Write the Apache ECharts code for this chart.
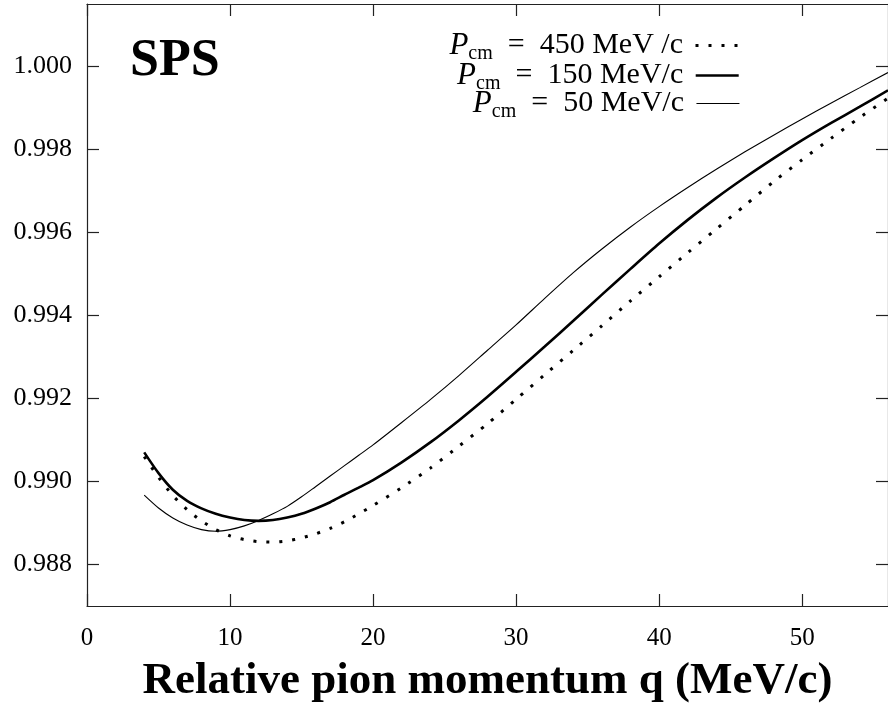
<!DOCTYPE html>
<html>
<head>
<meta charset="utf-8">
<script src="https://cdn.jsdelivr.net/npm/echarts@6/dist/echarts.min.js"></script>
<style>
  html, body { margin: 0; padding: 0; background: #fff; }
  #chart { width: 888px; height: 709px; }
</style>
</head>
<body>
<div id="chart"></div>
<script>
// relative pion momentum q (MeV/c)
var qValues = [4, 5, 6, 7, 8, 9, 10, 11, 12, 13, 14, 15, 16, 17, 18, 19, 20, 22, 24, 26, 28, 30,
               32, 34, 36, 38, 40, 42, 44, 46, 48, 50, 52, 54, 56];

// P_cm = 450 MeV/c (dotted)
var p450 = [0.99060, 0.99010, 0.98966, 0.98932, 0.98905, 0.98884, 0.98869, 0.98860, 0.98855, 0.98854,
            0.98857, 0.98864, 0.98874, 0.98887, 0.98903, 0.98922, 0.98942, 0.98985, 0.99032, 0.99085,
            0.99139, 0.99198, 0.99257, 0.99316, 0.99375, 0.99435, 0.99493, 0.99551, 0.99608, 0.99665,
            0.99722, 0.99775, 0.99826, 0.99876, 0.99923];

// P_cm = 150 MeV/c (thick)
var p150 = [0.99070, 0.99020, 0.98980, 0.98953, 0.98935, 0.98922, 0.98913, 0.98907, 0.98905, 0.98907,
            0.98913, 0.98922, 0.98935, 0.98950, 0.98968, 0.98985, 0.99003, 0.99046, 0.99094, 0.99147,
            0.99204, 0.99264, 0.99325, 0.99387, 0.99450, 0.99512, 0.99573, 0.99630, 0.99683, 0.99732,
            0.99778, 0.99822, 0.99863, 0.99902, 0.99942];

// P_cm = 50 MeV/c (thin)
var p50 = [0.98967, 0.98936, 0.98912, 0.98895, 0.98884, 0.98880, 0.98884, 0.98893, 0.98906, 0.98922,
           0.98940, 0.98963, 0.98988, 0.99013, 0.99038, 0.99063, 0.99088, 0.99142, 0.99197, 0.99255,
           0.99316, 0.99377, 0.99441, 0.99503, 0.99560, 0.99613, 0.99662, 0.99708, 0.99752, 0.99794,
           0.99834, 0.99873, 0.99911, 0.99948, 0.99985];

var xTicks = [0, 10, 20, 30, 40, 50];
var yTicks = [0.988, 0.990, 0.992, 0.994, 0.996, 0.998, 1.000];

var legendText = {
    'P450': '{p|P}{s|cm}{t|  =  450 MeV /c }',
    'P150': '{p|P}{s|cm}{t|  =  150 MeV/c }',
    'P50':  '{p|P}{s|cm}{t|  =  50 MeV/c }'
};

function pairs(ys) {
    var out = [];
    for (var i = 0; i < qValues.length; i++) {
        out.push([qValues[i], ys[i]]);
    }
    return out;
}

var serif = 'Liberation Serif';
var axisColor = '#222';

var richStyle = {
    p: { fontFamily: serif, fontStyle: 'italic', fontSize: 31, color: '#000' },
    s: { fontFamily: serif, fontSize: 20, color: '#000', padding: [16, 0, 0, 0] },
    t: { fontFamily: serif, fontSize: 30, color: '#000' }
};

function makeLegend(name, top, width) {
    return {
        data: [name],
        right: 148,
        top: top,
        padding: 0,
        align: 'right',
        itemWidth: 43,
        itemHeight: 14,
        selectedMode: false,
        itemStyle: { opacity: 0, borderWidth: 0 },
        lineStyle: { width: width, opacity: 1 },
        formatter: function (n) { return legendText[n]; },
        textStyle: { rich: richStyle }
    };
}

var chart = echarts.init(document.getElementById('chart'));
chart.setOption({
    backgroundColor: '#fff',
    animation: false,
    color: ['#000', '#000', '#000'],
    title: {
        text: 'SPS',
        left: 130,
        top: 36,
        padding: 0,
        textStyle: { fontFamily: serif, fontWeight: 'bold', fontSize: 52, color: '#000' }
    },
    legend: [
        makeLegend('P450', 30, 3),
        makeLegend('P150', 60, 2.6),
        makeLegend('P50', 88, 1.1)
    ],
    grid: {
        left: 87,
        top: 4,
        right: -5,
        bottom: 101
    },
    xAxis: [
        {
            type: 'value',
            min: 0,
            max: 56,
            name: 'Relative pion momentum q (MeV/c)',
            nameLocation: 'middle',
            nameGap: 53,
            nameTextStyle: { fontFamily: serif, fontWeight: 'bold', fontSize: 45, color: '#000' },
            axisLine: { onZero: false, lineStyle: { color: axisColor, width: 1.2 } },
            axisTick: { inside: true, length: 12, customValues: xTicks, lineStyle: { color: axisColor, width: 1.2 } },
            axisLabel: { customValues: xTicks, margin: 20, fontFamily: serif, fontSize: 25, color: '#000' },
            splitLine: { show: false }
        },
        {
            type: 'value',
            position: 'top',
            min: 0,
            max: 56,
            axisLine: { onZero: false, lineStyle: { color: axisColor, width: 1.2 } },
            axisTick: { inside: true, length: 12, customValues: xTicks, lineStyle: { color: axisColor, width: 1.2 } },
            axisLabel: { show: false },
            splitLine: { show: false }
        }
    ],
    yAxis: [
        {
            type: 'value',
            min: 0.987,
            max: 1.0015,
            axisLine: { onZero: false, lineStyle: { color: axisColor, width: 1.2 } },
            axisTick: { inside: true, length: 12, customValues: yTicks, lineStyle: { color: axisColor, width: 1.2 } },
            axisLabel: {
                customValues: yTicks,
                margin: 15,
                fontFamily: serif,
                fontSize: 26,
                color: '#000',
                formatter: function (v) { return v.toFixed(3); }
            },
            splitLine: { show: false }
        },
        {
            type: 'value',
            position: 'right',
            min: 0.987,
            max: 1.0015,
            axisLine: { onZero: false, lineStyle: { color: axisColor, width: 1.2 } },
            axisTick: { inside: true, length: 12, customValues: yTicks, lineStyle: { color: axisColor, width: 1.2 } },
            axisLabel: { show: false },
            splitLine: { show: false }
        }
    ],
    series: [
        {
            name: 'P450',
            type: 'line',
            data: pairs(p450),
            smooth: 0.25,
            symbol: 'none',
            itemStyle: { color: '#000' },
            lineStyle: { color: '#000', width: 3, type: [3, 10], cap: 'butt' }
        },
        {
            name: 'P150',
            type: 'line',
            data: pairs(p150),
            smooth: 0.25,
            symbol: 'none',
            itemStyle: { color: '#000' },
            lineStyle: { color: '#000', width: 2.6 }
        },
        {
            name: 'P50',
            type: 'line',
            data: pairs(p50),
            smooth: 0.25,
            symbol: 'none',
            itemStyle: { color: '#000' },
            lineStyle: { color: '#000', width: 1.1 }
        }
    ]
});

window.addEventListener('resize', function () {
    chart.resize();
});
</script>
</body>
</html>
